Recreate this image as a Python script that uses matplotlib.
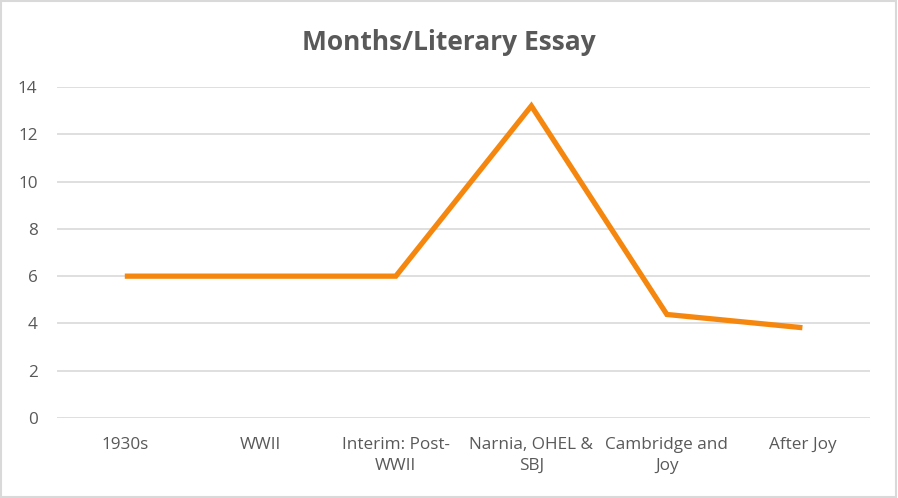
import matplotlib

matplotlib.use("Agg")
import matplotlib.pyplot as plt
from matplotlib.patches import Rectangle

categories = ["1930s", "WWII", "Interim: Post-\nWWII", "Narnia, OHEL &\nSBJ", "Cambridge and\nJoy", "After Joy"]
months = [6.0, 6.0, 6.0, 13.2, 4.38, 3.82]
y_ticks = [0, 2, 4, 6, 8, 10, 12, 14]

text_color = "#595959"
plt.rcParams["font.family"] = ["Open Sans", "DejaVu Sans"]

fig = plt.figure(figsize=(8.98, 4.98), dpi=100)
ax = fig.add_axes([0.0635, 0.1606, 0.9055, 0.6647])

x = list(range(len(categories)))
ax.plot(x, months, color="#F5870F", linewidth=3.8, solid_joinstyle="miter", solid_capstyle="butt", zorder=3)

ax.set_xlim(-0.5, len(categories) - 0.5)
ax.set_ylim(0, 14)
ax.set_yticks(y_ticks)
ax.set_yticklabels([str(v) for v in y_ticks])
ax.set_xticks(x)
ax.set_xticklabels(categories, linespacing=1.4)
ax.tick_params(axis="both", length=0, colors=text_color, labelsize=12.3)
ax.tick_params(axis="x", pad=14)
ax.tick_params(axis="y", pad=14)
ax.grid(axis="y", color="#D9D9D9", linewidth=1.2)
ax.set_axisbelow(True)
for side in ["top", "right", "left", "bottom"]:
    ax.spines[side].set_visible(False)

fig.text(0.5, 0.915, "Months/Literary Essay", ha="center", va="center", fontsize=19,
         fontweight="bold", color=text_color)

fig.patches.append(Rectangle((0.001, 0.002), 0.997, 0.995, transform=fig.transFigure,
                             fill=False, edgecolor="#D9D9D9", linewidth=1.5))

fig.savefig("out.png", dpi=100)
